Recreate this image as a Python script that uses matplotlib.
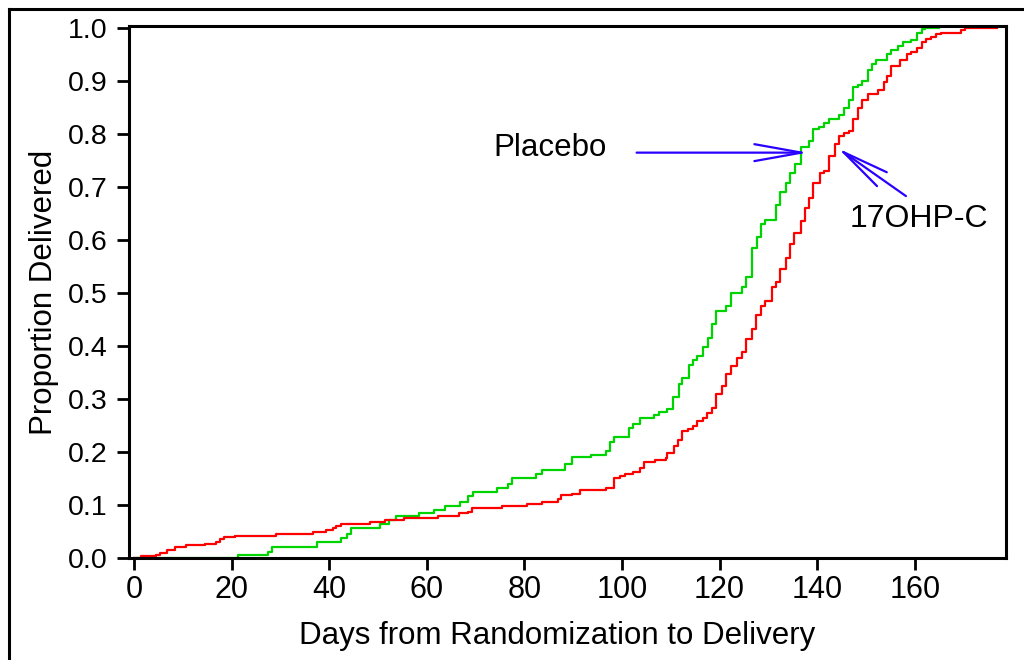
import numpy as np
import matplotlib
matplotlib.use('Agg')
import matplotlib.pyplot as plt
from matplotlib.lines import Line2D

plt.rcParams['font.family'] = ['Liberation Sans', 'DejaVu Sans']

# cumulative proportion delivered
placebo_days = [0, 21.4, 27.5, 28.3, 37.6, 42.4, 43.6, 44.4, 50.5, 52.3,
                53.7, 58.4, 61.5, 63.7, 66.8, 68.5, 69.4, 74.4, 76.7, 77.5,
                82.3, 83.6, 88.3, 89.7, 93.6, 96.8, 97.6, 98.3, 101.4, 102.3,
                103.6, 106.6, 107.6, 109.2, 110.5, 111.6, 112.4, 113.7, 114.5, 115.4,
                116.6, 117.6, 118.5, 119.3, 121.4, 122.3, 124.6, 125.4, 126.7, 127.6,
                128.4, 129.3, 131.5, 132.4, 133.6, 134.4, 135.4, 136.6, 138.4, 139.2,
                140.4, 141.4, 142.4, 144.4, 145.4, 146.6, 147.4, 148.3, 149.1, 150.4,
                151.2, 152.1, 154.4, 155.2, 156.6, 157.5, 159.2, 160.4, 161.4, 162.2,
                165.0]
placebo_prop = [0, 0.006, 0.012, 0.020, 0.031, 0.038, 0.046, 0.057, 0.065, 0.072,
                0.080, 0.084, 0.091, 0.099, 0.106, 0.117, 0.125, 0.132, 0.139, 0.151,
                0.158, 0.166, 0.177, 0.191, 0.194, 0.202, 0.218, 0.229, 0.245, 0.252,
                0.264, 0.270, 0.276, 0.281, 0.303, 0.328, 0.340, 0.365, 0.374, 0.382,
                0.399, 0.416, 0.441, 0.466, 0.475, 0.501, 0.512, 0.531, 0.585, 0.605,
                0.630, 0.638, 0.667, 0.690, 0.708, 0.726, 0.743, 0.776, 0.787, 0.809,
                0.814, 0.821, 0.829, 0.836, 0.849, 0.865, 0.888, 0.892, 0.900, 0.921,
                0.932, 0.940, 0.951, 0.958, 0.966, 0.973, 0.977, 0.991, 0.998, 1.0,
                1.0]

ohp_days = [0, 1.5, 4.5, 5.4, 6.7, 8.4, 10.6, 14.6, 16.8, 17.6,
            18.5, 20.7, 29.2, 36.6, 39.4, 40.7, 41.5, 42.4, 48.4, 51.4,
            55.3, 62.4, 66.6, 68.5, 69.3, 75.4, 80.6, 83.7, 86.8, 87.6,
            89.7, 91.5, 96.8, 98.3, 99.6, 100.7, 102.3, 103.6, 104.5, 106.8,
            109.1, 109.3, 110.7, 111.4, 112.3, 113.6, 114.5, 115.4, 116.6, 117.5,
            118.4, 119.3, 120.5, 121.4, 122.3, 123.6, 124.5, 125.4, 126.7, 127.5,
            128.4, 129.3, 130.7, 131.5, 132.3, 133.6, 134.4, 135.3, 136.6, 137.6,
            138.4, 139.2, 140.6, 141.5, 142.4, 143.6, 144.4, 145.4, 146.6, 147.4,
            148.3, 149.1, 150.4, 152.4, 153.6, 154.4, 155.2, 156.9, 158.4, 159.2,
            160.5, 161.4, 162.4, 163.4, 164.4, 165.4, 169.4, 170.4, 176.9]
ohp_prop = [0, 0.003, 0.006, 0.010, 0.016, 0.020, 0.024, 0.027, 0.031, 0.035,
            0.039, 0.042, 0.045, 0.050, 0.053, 0.057, 0.061, 0.065, 0.068, 0.072,
            0.076, 0.080, 0.084, 0.087, 0.095, 0.099, 0.102, 0.106, 0.111, 0.118,
            0.121, 0.129, 0.133, 0.151, 0.155, 0.158, 0.162, 0.169, 0.181, 0.185,
            0.188, 0.199, 0.211, 0.222, 0.240, 0.244, 0.249, 0.259, 0.265, 0.273,
            0.284, 0.310, 0.325, 0.348, 0.363, 0.377, 0.389, 0.414, 0.432, 0.459,
            0.475, 0.485, 0.512, 0.521, 0.545, 0.567, 0.592, 0.613, 0.636, 0.660,
            0.679, 0.708, 0.726, 0.731, 0.758, 0.781, 0.796, 0.802, 0.805, 0.828,
            0.849, 0.865, 0.875, 0.883, 0.899, 0.909, 0.928, 0.940, 0.951, 0.955,
            0.962, 0.973, 0.979, 0.983, 0.988, 0.991, 0.997, 1.0, 1.0]

xticks = np.arange(0, 161, 20)
yticks = np.round(np.arange(0, 1.01, 0.1), 1)

green = '#00d400'
red = '#ff0000'
blue = '#2a00ff'

fig = plt.figure(figsize=(10.24, 6.6), dpi=100)
ax = fig.add_axes([129 / 1024, 1 - 558 / 660, 877 / 1024, 532 / 660])

ax.step(placebo_days, placebo_prop, where='post', color=green, lw=1.6, clip_on=False)
ax.step(ohp_days, ohp_prop, where='post', color=red, lw=1.6, clip_on=False)

ax.set_xlim(-1.02, 178.7)
ax.set_ylim(0, 1.004)
ax.set_xticks(xticks)
ax.set_yticks(yticks)
ax.set_yticklabels(['%.1f' % v for v in yticks])

for s in ax.spines.values():
    s.set_linewidth(2.2)
ax.tick_params(direction='out', length=8.5, width=2)
ax.tick_params(axis='x', labelsize=22, pad=4)
ax.tick_params(axis='y', labelsize=20.5, pad=7)

ax.set_xlabel('Days from Randomization to Delivery', fontsize=22.5, labelpad=11)
ax.xaxis.label.set_x(0.488)
ax.set_ylabel('Proportion Delivered', fontsize=22.5, labelpad=6)

# labels with open arrows
ax.text(85.2, 0.774, 'Placebo', fontsize=22.5, ha='center', va='center')
ax.annotate('', xy=(138.1, 0.765), xytext=(103.0, 0.765),
            arrowprops=dict(arrowstyle='->,head_length=3.4,head_width=0.61',
                            color=blue, lw=1.6, shrinkA=0, shrinkB=0,
                            mutation_scale=10))
ax.text(160.8, 0.640, '17OHP-C', fontsize=23, ha='center', va='center')
ax.annotate('', xy=(144.3, 0.773), xytext=(158.2, 0.683),
            arrowprops=dict(arrowstyle='->,head_length=3.4,head_width=0.61',
                            color=blue, lw=1.6, shrinkA=0, shrinkB=0,
                            mutation_scale=10))

# outer frame, cut off at the right and bottom edge
fx, fy = 9 / 1024, 1 - 9 / 660
fig.add_artist(Line2D([fx, fx], [0, fy], color='black', lw=2.2, transform=fig.transFigure))
fig.add_artist(Line2D([fx, 1], [fy, fy], color='black', lw=2.2, transform=fig.transFigure))

fig.savefig('out.png', dpi=100)
